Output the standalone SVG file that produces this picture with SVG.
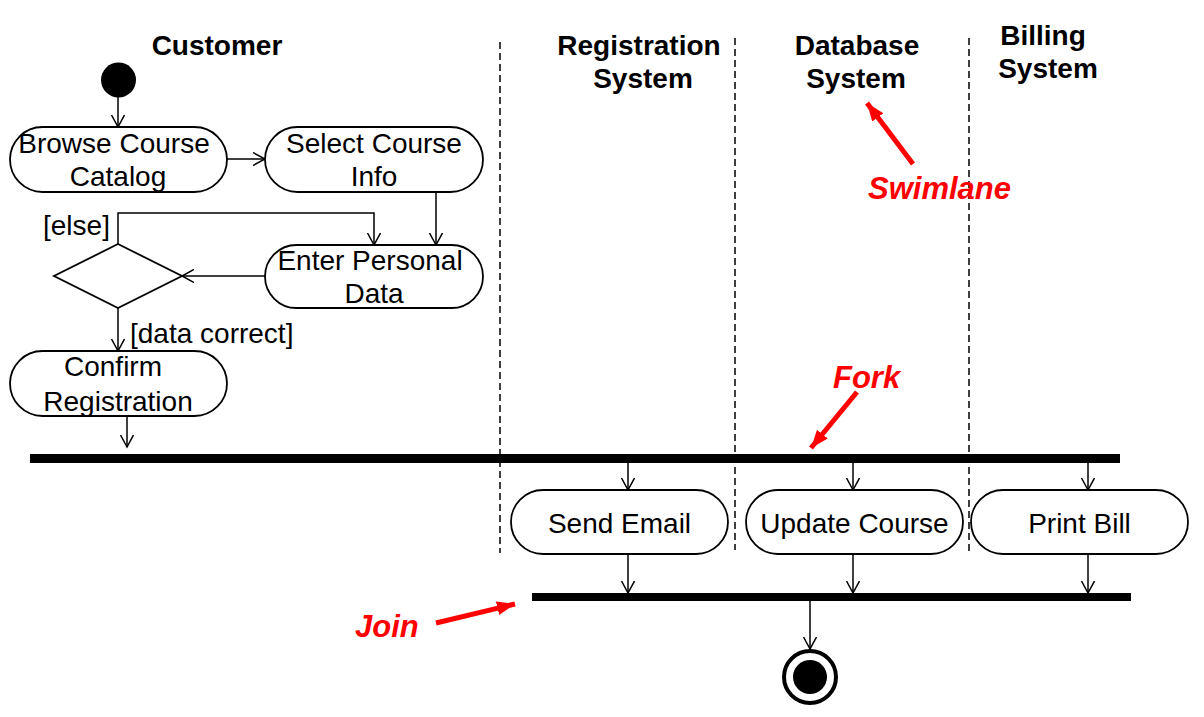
<svg xmlns="http://www.w3.org/2000/svg" width="1204" height="717" viewBox="0 0 1204 717">
<style>
  .lane { stroke:#000; stroke-width:1.5; stroke-dasharray:7,4; fill:none; }
  .hdr { font-family:"Liberation Sans", Arial, sans-serif; font-size:28px; font-weight:bold; fill:#000; text-anchor:middle; }
  .node { fill:#fff; stroke:#000; stroke-width:1.8; }
  .t { font-family:"Liberation Sans", Arial, sans-serif; font-size:28px; fill:#000; text-anchor:middle; }
  .lbl { font-family:"Liberation Sans", Arial, sans-serif; font-size:28px; fill:#000; }
  .conn { stroke:#000; stroke-width:1.5; fill:none; marker-end:url(#arr); }
  .note { font-family:"Liberation Sans", Arial, sans-serif; font-size:31px; font-weight:bold; font-style:italic; fill:#ff0000; }
  .red { stroke:#ff0000; stroke-width:5; fill:none; marker-end:url(#rarr); }
  .bar { fill:#000; }
</style>
<defs>
  <marker id="arr" markerUnits="userSpaceOnUse" markerWidth="14" markerHeight="15" refX="12" refY="7" orient="auto">
    <path d="M0,0.5 L12,7 L0,13.5" fill="none" stroke="#000" stroke-width="1.5"/>
  </marker>
  <marker id="rarr" markerUnits="userSpaceOnUse" markerWidth="20" markerHeight="16" refX="18" refY="8" orient="auto">
    <path d="M0,1 L18,8 L0,15 Z" fill="#ff0000"/>
  </marker>
</defs>
<rect width="1204" height="717" fill="#fff"/>

<g id="swimlanes">
  <line class="lane" x1="500" y1="42" x2="500" y2="553"/>
  <line class="lane" x1="735" y1="38" x2="735" y2="550"/>
  <line class="lane" x1="969" y1="38" x2="969" y2="551"/>
  <text class="hdr" x="217" y="55">Customer</text>
  <text class="hdr" x="639" y="55">Registration</text>
  <text class="hdr" x="643" y="88">System</text>
  <text class="hdr" x="857" y="55">Database</text>
  <text class="hdr" x="856" y="88">System</text>
  <text class="hdr" x="1043" y="45">Billing</text>
  <text class="hdr" x="1048" y="78">System</text>
</g>

<g id="connectors">
  <line class="conn" x1="118" y1="97" x2="118" y2="127"/>
  <line class="conn" x1="227" y1="159" x2="265" y2="159"/>
  <line class="conn" x1="436" y1="192" x2="436" y2="245"/>
  <line class="conn" x1="265" y1="276" x2="182" y2="276"/>
  <polyline class="conn" points="118,244 118,213 374,213 374,245"/>
  <line class="conn" x1="118" y1="308" x2="118" y2="351"/>
  <line class="conn" x1="127" y1="416" x2="127" y2="447"/>
  <line class="conn" x1="628" y1="463" x2="628" y2="490"/>
  <line class="conn" x1="853" y1="463" x2="853" y2="490"/>
  <line class="conn" x1="1088" y1="463" x2="1088" y2="490"/>
  <line class="conn" x1="628" y1="554" x2="628" y2="593"/>
  <line class="conn" x1="853" y1="554" x2="853" y2="593"/>
  <line class="conn" x1="1088" y1="554" x2="1088" y2="593"/>
  <line class="conn" x1="810" y1="601" x2="810" y2="649"/>
  <text class="lbl" x="43" y="235">[else]</text>
  <text class="lbl" x="130" y="343">[data correct]</text>
</g>

<g id="initial">
  <circle cx="118.5" cy="80" r="17.5" fill="#000"/>
</g>

<g id="browse">
  <rect class="node" x="10" y="127" width="217" height="65" rx="32.5"/>
  <text class="t" x="114" y="153">Browse Course</text>
  <text class="t" x="118" y="186">Catalog</text>
</g>

<g id="select">
  <rect class="node" x="265" y="127" width="218" height="65" rx="32.5"/>
  <text class="t" x="374" y="153">Select Course</text>
  <text class="t" x="374" y="186">Info</text>
</g>

<g id="enter">
  <rect class="node" x="265" y="245" width="218" height="63" rx="31.5"/>
  <text class="t" x="370" y="270">Enter Personal</text>
  <text class="t" x="374" y="303">Data</text>
</g>

<g id="decision">
  <polygon class="node" points="118,244 182,276 118,308 54,276"/>
</g>

<g id="confirm">
  <rect class="node" x="10" y="351" width="217" height="65" rx="32.5"/>
  <text class="t" x="113" y="376">Confirm</text>
  <text class="t" x="118" y="411">Registration</text>
</g>

<g id="fork">
  <rect class="bar" x="30" y="454" width="1090" height="9"/>
</g>

<g id="sendEmail">
  <rect class="node" x="511" y="490" width="217" height="64" rx="32"/>
  <text class="t" x="619.5" y="533">Send Email</text>
</g>

<g id="updateCourse">
  <rect class="node" x="746" y="490" width="217" height="64" rx="32"/>
  <text class="t" x="854.5" y="533">Update Course</text>
</g>

<g id="printBill">
  <rect class="node" x="971" y="490" width="217" height="64" rx="32"/>
  <text class="t" x="1079.5" y="533">Print Bill</text>
</g>

<g id="join">
  <rect class="bar" x="532" y="593" width="599" height="8"/>
</g>

<g id="final">
  <circle cx="810" cy="677" r="26" fill="#fff" stroke="#000" stroke-width="4"/>
  <circle cx="810" cy="677" r="17" fill="#000"/>
</g>

<g id="annotations">
  <line class="red" x1="913" y1="164" x2="867" y2="103"/>
  <text class="note" x="868" y="199">Swimlane</text>
  <line class="red" x1="857" y1="392" x2="811" y2="448"/>
  <text class="note" x="833" y="388">Fork</text>
  <line class="red" x1="436" y1="623" x2="515" y2="604"/>
  <text class="note" x="355" y="637">Join</text>
</g>
</svg>
